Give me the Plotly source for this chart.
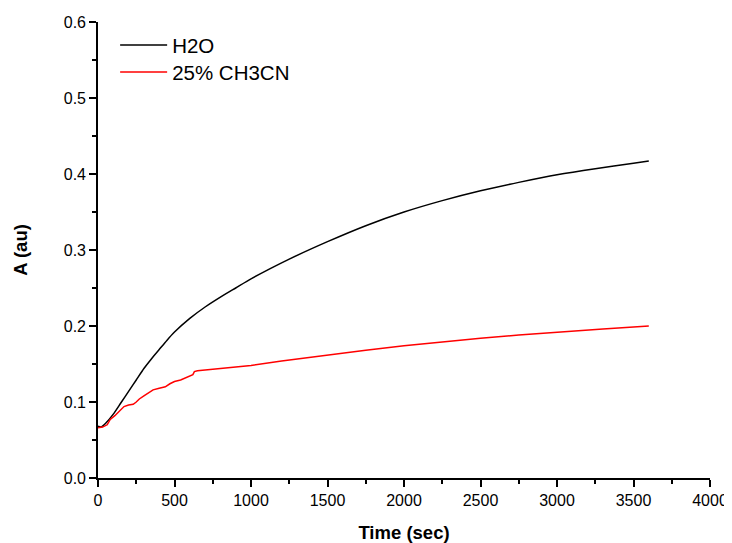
import plotly.graph_objects as go

# Data
t_h2o = [0, 20, 50, 100, 150, 200, 250, 300, 350, 400, 450, 500, 600, 700, 800, 900,
         1000, 1250, 1500, 1750, 2000, 2250, 2500, 2750, 3000, 3250, 3500, 3600]
a_h2o = [0.068, 0.067, 0.072, 0.084, 0.099, 0.114, 0.129, 0.144, 0.157, 0.169, 0.181,
         0.192, 0.210, 0.225, 0.238, 0.250, 0.262, 0.288, 0.311, 0.332, 0.350, 0.365,
         0.378, 0.389, 0.399, 0.407, 0.414, 0.417]

t_ch3cn = [0, 30, 60, 80, 110, 140, 170, 200, 230, 250, 270, 300, 330, 360, 400, 440,
           470, 500, 540, 580, 620, 630, 650, 700, 800, 900, 1000, 1200, 1500, 1750,
           2000, 2250, 2500, 2750, 3000, 3300, 3600]
a_ch3cn = [0.066, 0.067, 0.070, 0.077, 0.082, 0.088, 0.094, 0.096, 0.097, 0.100, 0.104,
           0.108, 0.112, 0.116, 0.118, 0.120, 0.124, 0.127, 0.129, 0.132, 0.136, 0.140,
           0.141, 0.142, 0.144, 0.146, 0.148, 0.154, 0.162, 0.168, 0.174, 0.179,
           0.184, 0.188, 0.192, 0.196, 0.200]

FONT = "Arial, Liberation Sans, sans-serif"

fig = go.Figure()
fig.add_trace(go.Scatter(x=t_h2o, y=a_h2o, mode="lines", name="H2O", legend="legend",
                         line=dict(color="black", width=1.5, shape="spline", smoothing=0.6)))
fig.add_trace(go.Scatter(x=t_ch3cn, y=a_ch3cn, mode="lines", name="25% CH3CN", legend="legend2",
                         line=dict(color="red", width=1.5)))

axis_common = dict(showline=True, linecolor="black", linewidth=1.6,
                   ticks="outside", ticklen=7, tickwidth=1.6, tickcolor="black",
                   showgrid=False, zeroline=False, mirror=False, automargin=False,
                   tickfont=dict(family=FONT, size=16, color="black"))

fig.update_xaxes(range=[0, 4000], dtick=500, tick0=0,
                 minor=dict(ticks="outside", ticklen=4, dtick=250, tickcolor="black", tickwidth=1.6),
                 title=dict(text="<b>Time (sec)</b>", font=dict(family=FONT, size=18.5, color="black"),
                            standoff=18),
                 **axis_common)
fig.update_yaxes(range=[0, 0.6], dtick=0.1, tick0=0, tickformat=".1f",
                 minor=dict(ticks="outside", ticklen=4, dtick=0.05, tickcolor="black", tickwidth=1.6),
                 title=dict(text="<b>A (au)</b>", font=dict(family=FONT, size=18.5, color="black"),
                            standoff=31),
                 **axis_common)

legend_common = dict(xanchor="left", yanchor="top",
                     font=dict(family=FONT, size=20.5, color="black"),
                     itemwidth=47, bgcolor="rgba(0,0,0,0)")

# The page body adds an 8px offset, so the figure is sized/margined to compensate
fig.update_layout(width=724, height=535,
                  margin=dict(l=90, r=22, t=14, b=65),
                  plot_bgcolor="white", paper_bgcolor="white",
                  legend=dict(x=0.028, y=0.993, **legend_common),
                  legend2=dict(x=0.028, y=0.934, **legend_common),
                  showlegend=True)

fig.write_html("out.html")
